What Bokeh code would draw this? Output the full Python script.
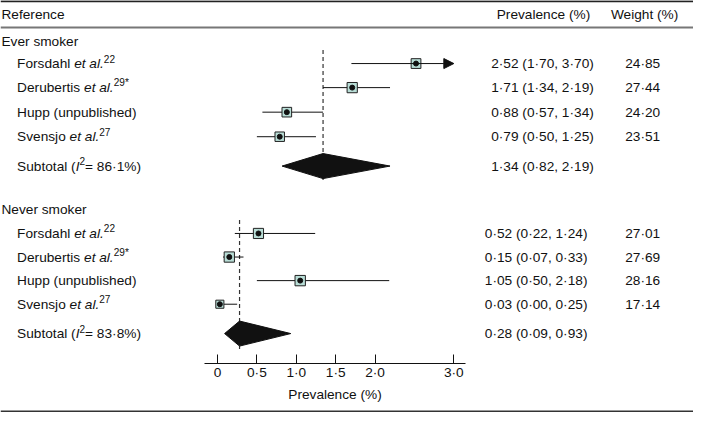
from math import sqrt
from bokeh.plotting import figure
from bokeh.models import (Range1d, LinearAxis, FixedTicker, Span, Arrow,
                          NormalHead, ColumnDataSource)
from bokeh.core.properties import value
from bokeh.embed import file_html
from bokeh.resources import INLINE

# ---------------- data ----------------
SECTIONS = ["Ever smoker", "Never smoker"]

EVER_NAMES = ["Forsdahl", "Derubertis", "Hupp (unpublished)", "Svensjo"]
EVER_REFS = ["22", "29*", "", "27"]
EVER_EST = [2.52, 1.71, 0.88, 0.79]
EVER_LO = [1.70, 1.34, 0.57, 0.50]
EVER_HI = [3.70, 2.19, 1.34, 1.25]
EVER_WEIGHT = [24.85, 27.44, 24.20, 23.51]
EVER_SUB = [1.34, 0.82, 2.19]
EVER_I2 = 86.1

NEVER_NAMES = ["Forsdahl", "Derubertis", "Hupp (unpublished)", "Svensjo"]
NEVER_REFS = ["22", "29*", "", "27"]
NEVER_EST = [0.52, 0.15, 1.05, 0.03]
NEVER_LO = [0.22, 0.07, 0.50, 0.00]
NEVER_HI = [1.24, 0.33, 2.18, 0.25]
NEVER_WEIGHT = [27.01, 27.69, 28.16, 17.14]
NEVER_SUB = [0.28, 0.09, 0.93]
NEVER_I2 = 83.8

TICKS = [0, 0.5, 1.0, 1.5, 2.0, 3.0]
TICK_LABELS = ["0", "0·5", "1·0", "1·5", "2·0", "3·0"]
AXIS_LABEL = "Prevalence (%)"
HEADERS = ["Reference", "Prevalence (%)", "Weight (%)"]
X_CLIP = 3.0  # largest value drawn on the axis

# ---------------- layout (reference pixel grid) ----------------
W, H = 693, 412
REF_W, REF_H = 709, 428
SX = W / REF_W
X0_REF, PPU_REF = 222.0, 80.6          # where 0 sits, pixels per unit
FONT = "Liberation Sans"
FS = 14 * SX
SUP_FS = 10.3 * SX
INK = "#111111"
BOX = "#b8ddd6"


def rx(xr):
    return (xr - X0_REF) / PPU_REF


HEADER_Y = 15
SEC_Y = [43, 217]
ROW_Y = [[65.5, 90.5, 116, 141.5], [242, 266.5, 291, 315.5]]
SUB_Y = [172, 346]
AXIS_Y = 377
DIAMOND_H = 13
NAME_X, SEC_X = 17, 1
PREV_X = [554.5, 548]
WEIGHT_X = 657

# Arial / Liberation Sans advance widths (per 1000 em)
AW = {' ': 278, '(': 333, ')': 333, '%': 889, '.': 278, ',': 278, '*': 389,
      '=': 584, '·': 278}
AW.update({d: 556 for d in "0123456789"})
AW.update(dict(zip("ABCDEFGHIJKLMNOPQRSTUVWXYZ",
                   [667, 667, 722, 722, 667, 611, 778, 722, 278, 500, 667, 556, 833,
                    722, 778, 667, 778, 722, 667, 611, 722, 667, 944, 667, 667, 611])))
AW.update(dict(zip("abcdefghijklmnopqrstuvwxyz",
                   [556, 556, 500, 556, 556, 278, 556, 556, 222, 222, 500, 222, 833,
                    556, 556, 556, 556, 333, 500, 278, 556, 500, 722, 500, 500, 500])))


def tw(s, size):
    return sum(AW.get(c, 556) for c in s) * size / 1000.0


def fmt(v):
    return f"{v:.2f}".replace(".", "·")


x_start = rx(0)
x_end = rx(REF_W)
p = figure(width=W, height=H, output_backend="svg", toolbar_location=None,
           x_range=Range1d(x_start, x_end), y_range=Range1d(REF_H, 0),
           x_axis_location=None, y_axis_location=None, min_border=0,
           background_fill_color="white", border_fill_color="white")
p.outline_line_color = None
p.xgrid.visible = False
p.ygrid.visible = False

# horizontal rules
p.add_layout(Span(location=0.8, dimension="width", line_color="#222", line_width=2))
p.add_layout(Span(location=28, dimension="width", line_color="#777", line_width=2))
p.add_layout(Span(location=REF_H - 1, dimension="width", line_color="#333", line_width=2))

# text pieces
T = dict(x=[], y=[], text=[], xo=[], yo=[], size=[], style=[], align=[])


def put(x, y, text, xo=0.0, yo=0.0, size=FS, style="normal", align="left"):
    T["x"].append(x); T["y"].append(y); T["text"].append(text)
    T["xo"].append(xo); T["yo"].append(yo); T["size"].append(f"{size:.2f}px")
    T["style"].append(style); T["align"].append(align)


def rich(x, y, pieces):
    off = 0.0
    for txt, kind in pieces:
        if kind == "sup":
            put(x, y, txt, xo=off, yo=-5, size=SUP_FS)
            off += tw(txt, SUP_FS)
        else:
            put(x, y, txt, xo=off, style=kind)
            off += tw(txt, FS)


put(rx(SEC_X), HEADER_Y, HEADERS[0])
put(rx(555.5), HEADER_Y, HEADERS[1], align="center")
put(rx(659), HEADER_Y, HEADERS[2], align="center")

data = [
    (EVER_NAMES, EVER_REFS, EVER_EST, EVER_LO, EVER_HI, EVER_WEIGHT, EVER_SUB, EVER_I2),
    (NEVER_NAMES, NEVER_REFS, NEVER_EST, NEVER_LO, NEVER_HI, NEVER_WEIGHT, NEVER_SUB, NEVER_I2),
]

seg = dict(x0=[], x1=[], y=[])
pts = dict(x=[], y=[], size=[])
dia = dict(xs=[], ys=[])
vline = dict(x=[], y0=[], y1=[])

for s, (names, refs, est, lo, hi, wt, sub, i2) in enumerate(data):
    put(rx(SEC_X), SEC_Y[s], SECTIONS[s])
    for k in range(len(names)):
        y = ROW_Y[s][k]
        if refs[k]:
            rich(rx(NAME_X), y, [(names[k] + " ", "normal"), ("et al.", "italic"),
                                 (refs[k], "sup")])
        else:
            put(rx(NAME_X), y, names[k])
        put(rx(PREV_X[s]), y, f"{fmt(est[k])} ({fmt(lo[k])}, {fmt(hi[k])})", align="center")
        put(rx(WEIGHT_X), y, fmt(wt[k]), align="center")
        if hi[k] > X_CLIP:
            p.add_layout(Arrow(end=NormalHead(size=10, fill_color=INK, line_color=INK),
                               x_start=lo[k], y_start=y, x_end=X_CLIP, y_end=y,
                               line_color=INK, line_width=1))
        else:
            seg["x0"].append(lo[k]); seg["x1"].append(hi[k]); seg["y"].append(y)
        pts["x"].append(est[k]); pts["y"].append(y)
        pts["size"].append(2.0 * sqrt(wt[k]) * SX)
    ys = SUB_Y[s]
    rich(rx(NAME_X), ys, [("Subtotal (", "normal"), ("I", "italic"), ("2", "sup"),
                          (f" = {i2:.1f}%)".replace(".", "·"), "normal")])
    put(rx(PREV_X[s]), ys, f"{fmt(sub[0])} ({fmt(sub[1])}, {fmt(sub[2])})", align="center")
    dia["xs"].append([sub[1], sub[0], sub[2], sub[0]])
    dia["ys"].append([ys, ys - DIAMOND_H, ys, ys + DIAMOND_H])
    vline["x"].append(sub[0]); vline["y0"].append(ROW_Y[s][0] - 14)
    vline["y1"].append(ys + DIAMOND_H + 3)

p.segment(x0="x", y0="y0", x1="x", y1="y1", source=ColumnDataSource(vline),
          line_color="#333", line_width=1.2, line_dash="4 3")
p.segment(x0="x0", y0="y", x1="x1", y1="y", source=ColumnDataSource(seg),
          line_color=INK, line_width=1)
p.patches(xs="xs", ys="ys", source=ColumnDataSource(dia),
          fill_color="#111", line_color="#111")
psrc = ColumnDataSource(pts)
p.scatter(x="x", y="y", size="size", marker="square", source=psrc,
          fill_color=BOX, line_color="#222", line_width=1)
p.scatter(x="x", y="y", size=5, marker="circle", source=psrc,
          fill_color="#111", line_color="#111")

p.text(x="x", y="y", text="text", x_offset="xo", y_offset="yo",
       text_font_size="size", text_font_style="style", text_align="align",
       text_baseline="middle", text_font=value(FONT), text_color=INK,
       source=ColumnDataSource(T))

# x axis
ax = LinearAxis(fixed_location=AXIS_Y, bounds=(rx(209), rx(476)),
                ticker=FixedTicker(ticks=TICKS),
                major_label_overrides={t: l for t, l in zip(TICKS, TICK_LABELS)},
                axis_label=AXIS_LABEL)
ax.minor_tick_line_color = None
ax.major_tick_in = 9
ax.major_tick_out = 0
ax.axis_line_color = INK
ax.major_tick_line_color = INK
ax.major_label_standoff = 2
ax.major_label_text_font = FONT
ax.major_label_text_font_size = f"{FS:.2f}px"
ax.major_label_text_color = INK
ax.axis_label_text_font = FONT
ax.axis_label_text_font_size = f"{FS:.2f}px"
ax.axis_label_text_font_style = "normal"
ax.axis_label_text_color = INK
ax.axis_label_standoff = 3
p.add_layout(ax, "below")

open("out.html", "w").write(file_html(p, INLINE))
